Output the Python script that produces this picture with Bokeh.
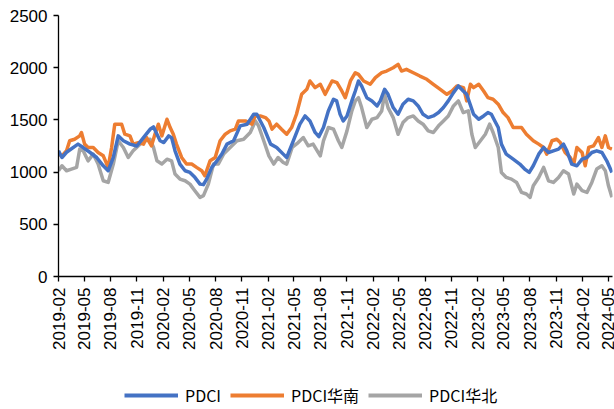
import math
import pandas as pd
from bokeh.plotting import figure
from bokeh.layouts import column
from bokeh.models import (Range1d, FixedTicker, DatetimeTickFormatter, Legend, LegendItem)
from bokeh.embed import file_html
from bokeh.resources import INLINE

# ---------------- data ----------------
tick_labels = ["2019-02", "2019-05", "2019-08", "2019-11", "2020-02", "2020-05",
               "2020-08", "2020-11", "2021-02", "2021-05", "2021-08", "2021-11",
               "2022-02", "2022-05", "2022-08", "2022-11", "2023-02", "2023-05",
               "2023-08", "2023-11", "2024-02", "2024-05"]

pdci_dates = ["2019-02-01", "2019-02-13", "2019-03-01", "2019-04-10", "2019-04-28", "2019-05-21",
              "2019-06-14", "2019-07-07", "2019-07-24", "2019-08-11", "2019-08-28", "2019-09-15",
              "2019-10-08", "2019-11-01", "2019-11-24", "2019-12-17", "2019-12-29", "2020-01-10",
              "2020-01-21", "2020-02-03", "2020-02-20", "2020-03-01", "2020-03-13", "2020-03-30",
              "2020-04-17", "2020-05-04", "2020-05-21", "2020-06-08", "2020-06-20", "2020-07-01",
              "2020-07-19", "2020-08-06", "2020-08-23", "2020-09-10", "2020-10-03", "2020-10-26",
              "2020-11-19", "2020-12-12", "2020-12-23", "2021-01-16", "2021-02-09", "2021-03-02",
              "2021-03-25", "2021-04-06", "2021-04-29", "2021-05-22", "2021-06-09", "2021-06-26",
              "2021-07-14", "2021-07-27", "2021-08-12", "2021-08-29", "2021-09-16", "2021-09-27",
              "2021-10-09", "2021-10-20", "2021-11-02", "2021-11-19", "2021-12-01", "2021-12-12",
              "2021-12-23", "2022-01-10", "2022-01-28", "2022-02-15", "2022-02-26", "2022-03-13",
              "2022-03-25", "2022-04-12", "2022-04-29", "2022-05-16", "2022-06-03", "2022-06-21",
              "2022-07-08", "2022-07-25", "2022-08-12", "2022-08-30", "2022-09-17", "2022-10-04",
              "2022-10-21", "2022-11-08", "2022-11-25", "2022-12-12", "2022-12-24", "2023-01-05",
              "2023-01-17", "2023-02-04", "2023-02-21", "2023-03-08", "2023-03-20", "2023-04-01",
              "2023-04-13", "2023-04-24", "2023-05-11", "2023-06-04", "2023-06-27", "2023-07-14",
              "2023-07-30", "2023-08-13", "2023-09-01", "2023-09-18", "2023-10-05", "2023-10-22",
              "2023-11-09", "2023-11-26", "2023-12-08", "2023-12-25", "2024-01-12", "2024-01-30",
              "2024-02-16", "2024-03-04", "2024-03-21", "2024-04-08", "2024-04-25", "2024-05-13"]
pdci_vals = [1204, 1140, 1190, 1268, 1235, 1190,
             1140, 1060, 1013, 1140, 1347, 1300,
             1268, 1250, 1330, 1410, 1433, 1363,
             1300, 1283, 1347, 1330, 1204, 1077,
             1013, 997, 950, 885, 880, 933,
             1045, 1108, 1172, 1268, 1300, 1443,
             1459, 1554, 1554, 1427, 1268, 1236,
             1172, 1140, 1300, 1459, 1538, 1490,
             1380, 1340, 1427, 1586, 1698, 1682,
             1554, 1490, 1538, 1682, 1777, 1873,
             1825, 1713, 1682, 1634, 1682, 1793,
             1745, 1618, 1554, 1650, 1698, 1682,
             1634, 1554, 1522, 1538, 1570, 1618,
             1682, 1761, 1825, 1777, 1745, 1650,
             1554, 1506, 1538, 1570, 1554, 1490,
             1427, 1268, 1172, 1124, 1077, 1029,
             997, 1061, 1172, 1236, 1188, 1204,
             1220, 1268, 1204, 1077, 1061, 1124,
             1140, 1188, 1204, 1188, 1108, 997]

south_dates = ["2019-02-01", "2019-02-13", "2019-03-01", "2019-03-12", "2019-03-29", "2019-04-16",
               "2019-04-22", "2019-05-03", "2019-05-15", "2019-06-02", "2019-06-19", "2019-07-07",
               "2019-07-24", "2019-08-05", "2019-08-16", "2019-09-09", "2019-09-20", "2019-10-08",
               "2019-10-19", "2019-11-06", "2019-11-24", "2019-12-05", "2019-12-22", "2020-01-03",
               "2020-01-15", "2020-01-27", "2020-02-14", "2020-02-25", "2020-03-07", "2020-03-18",
               "2020-04-05", "2020-04-22", "2020-05-10", "2020-05-27", "2020-06-14", "2020-06-25",
               "2020-07-13", "2020-07-31", "2020-08-17", "2020-09-04", "2020-09-21", "2020-10-09",
               "2020-10-20", "2020-11-13", "2020-12-06", "2020-12-17", "2021-01-04", "2021-01-22",
               "2021-02-03", "2021-02-14", "2021-03-02", "2021-03-19", "2021-04-06", "2021-04-23",
               "2021-05-10", "2021-05-28", "2021-06-15", "2021-06-26", "2021-07-14", "2021-08-01",
               "2021-08-18", "2021-09-11", "2021-09-28", "2021-10-15", "2021-10-27", "2021-11-14",
               "2021-12-01", "2021-12-12", "2021-12-30", "2022-01-22", "2022-02-09", "2022-03-03",
               "2022-03-20", "2022-04-12", "2022-04-29", "2022-05-11", "2022-05-28", "2022-06-21",
               "2022-07-14", "2022-08-07", "2022-08-30", "2022-09-23", "2022-10-16", "2022-11-03",
               "2022-11-20", "2022-12-13", "2022-12-24", "2023-01-06", "2023-01-17", "2023-02-04",
               "2023-02-21", "2023-03-08", "2023-03-26", "2023-04-13", "2023-04-30", "2023-05-17",
               "2023-06-04", "2023-06-21", "2023-07-03", "2023-07-20", "2023-08-13", "2023-09-01",
               "2023-09-18", "2023-09-29", "2023-10-17", "2023-11-03", "2023-11-15", "2023-12-02",
               "2023-12-20", "2024-01-01", "2024-01-12", "2024-01-30", "2024-02-10", "2024-02-22",
               "2024-03-10", "2024-03-27", "2024-04-08", "2024-04-20", "2024-05-01", "2024-05-13"]
south_vals = [1172, 1156, 1204, 1300, 1315, 1347,
              1379, 1268, 1236, 1236, 1188, 1156,
              1045, 1236, 1459, 1459, 1363, 1347,
              1268, 1283, 1268, 1331, 1252, 1363,
              1459, 1347, 1506, 1427, 1363, 1268,
              1140, 1077, 1077, 1045, 1013, 965,
              1108, 1140, 1300, 1363, 1395, 1411,
              1490, 1490, 1459, 1538, 1538, 1522,
              1490, 1411, 1459, 1411, 1363, 1427,
              1554, 1745, 1793, 1873, 1809, 1841,
              1745, 1873, 1857, 1777, 1713, 1873,
              1952, 1936, 1873, 1841, 1905, 1952,
              1968, 2000, 2032, 1968, 1984, 1952,
              1920, 1889, 1841, 1793, 1745, 1777,
              1825, 1809, 1682, 1841, 1809, 1841,
              1777, 1713, 1698, 1650, 1570, 1522,
              1427, 1427, 1427, 1363, 1300, 1268,
              1236, 1172, 1300, 1315, 1283, 1188,
              1140, 1077, 1236, 1188, 1061, 1236,
              1252, 1331, 1236, 1347, 1236, 1220]

north_dates = ["2019-02-01", "2019-02-13", "2019-03-01", "2019-03-18", "2019-04-05", "2019-04-16",
               "2019-04-28", "2019-05-15", "2019-06-02", "2019-06-19", "2019-07-07", "2019-07-24",
               "2019-08-11", "2019-08-28", "2019-09-15", "2019-10-02", "2019-10-19", "2019-11-12",
               "2019-11-30", "2019-12-17", "2019-12-29", "2020-01-10", "2020-01-27", "2020-02-14",
               "2020-03-01", "2020-03-13", "2020-03-30", "2020-04-17", "2020-05-04", "2020-05-21",
               "2020-06-08", "2020-06-20", "2020-07-07", "2020-07-25", "2020-08-11", "2020-08-29",
               "2020-09-21", "2020-10-15", "2020-11-07", "2020-11-30", "2020-12-18", "2020-12-29",
               "2021-01-16", "2021-02-03", "2021-02-20", "2021-03-07", "2021-03-25", "2021-04-06",
               "2021-04-25", "2021-05-16", "2021-06-03", "2021-06-20", "2021-07-07", "2021-08-01",
               "2021-08-12", "2021-08-29", "2021-09-16", "2021-10-03", "2021-10-15", "2021-11-02",
               "2021-11-19", "2021-12-01", "2021-12-12", "2021-12-23", "2022-01-10", "2022-01-28",
               "2022-02-15", "2022-03-03", "2022-03-13", "2022-03-25", "2022-04-12", "2022-04-29",
               "2022-05-16", "2022-06-03", "2022-06-21", "2022-07-08", "2022-07-25", "2022-08-12",
               "2022-08-30", "2022-09-17", "2022-10-04", "2022-10-21", "2022-11-08", "2022-11-25",
               "2022-12-12", "2022-12-30", "2023-01-11", "2023-01-23", "2023-02-10", "2023-02-27",
               "2023-03-14", "2023-03-26", "2023-04-13", "2023-04-24", "2023-05-11", "2023-05-29",
               "2023-06-16", "2023-07-03", "2023-07-20", "2023-08-02", "2023-08-13", "2023-09-01",
               "2023-09-18", "2023-10-05", "2023-10-22", "2023-11-09", "2023-11-26", "2023-12-14",
               "2024-01-01", "2024-01-12", "2024-01-30", "2024-02-16", "2024-03-04", "2024-03-21",
               "2024-04-08", "2024-04-20", "2024-05-01", "2024-05-13"]
north_vals = [1013, 1061, 1013, 1029, 1045, 1220,
              1204, 1108, 1172, 1077, 917, 901,
              1077, 1300, 1236, 1140, 1204, 1268,
              1300, 1315, 1236, 1108, 1077, 1124,
              1108, 981, 933, 917, 885, 822,
              758, 774, 885, 1077, 1077, 1172,
              1236, 1300, 1315, 1379, 1490, 1443,
              1300, 1156, 1077, 1140, 1092, 1077,
              1236, 1283, 1331, 1252, 1268, 1156,
              1300, 1427, 1411, 1300, 1236, 1395,
              1586, 1682, 1713, 1618, 1427, 1506,
              1522, 1586, 1745, 1618, 1522, 1363,
              1474, 1522, 1538, 1490, 1459, 1395,
              1379, 1443, 1490, 1538, 1634, 1682,
              1570, 1586, 1363, 1236, 1300, 1363,
              1459, 1379, 1236, 997, 949, 933,
              901, 806, 790, 758, 869, 949,
              1045, 917, 901, 949, 1013, 981,
              790, 885, 822, 806, 901, 1029,
              1061, 1013, 869, 758]

series_names = ["PDCI", "PDCI华南", "PDCI华北"]
series_colors = ["#4472C4", "#ED7D31", "#A5A5A5"]

# ---------------- main figure ----------------
x_start = pd.Timestamp("2019-02-01")
x_end = pd.Timestamp("2024-05-15")

p = figure(width=614, height=380, x_axis_type="datetime",
           output_backend="svg", toolbar_location=None,
           x_range=Range1d(x_start, x_end), y_range=Range1d(0, 2500),
           min_border_left=58, min_border_right=2, min_border_top=15,
           min_border_bottom=104)
p.outline_line_color = None
p.xgrid.grid_line_color = None
p.ygrid.grid_line_color = None
p.background_fill_color = "white"
p.border_fill_color = "white"

p.line(pd.to_datetime(north_dates), north_vals, line_color=series_colors[2],
       line_width=3.5, line_join="round")
p.line(pd.to_datetime(south_dates), south_vals, line_color=series_colors[1],
       line_width=3.5, line_join="round")
p.line(pd.to_datetime(pdci_dates), pdci_vals, line_color=series_colors[0],
       line_width=3.5, line_join="round")

tick_ms = [pd.Timestamp(t + "-01").value / 1e6 for t in tick_labels]
p.xaxis.ticker = FixedTicker(ticks=tick_ms)
fmt = "%Y-%m"
p.xaxis.formatter = DatetimeTickFormatter(years=fmt, months=fmt, days=fmt, hours=fmt,
                                          minutes=fmt, seconds=fmt, milliseconds=fmt)
p.xaxis.major_label_orientation = math.pi / 2
p.yaxis.ticker = FixedTicker(ticks=[0, 500, 1000, 1500, 2000, 2500])

for ax in (p.xaxis[0], p.yaxis[0]):
    ax.axis_line_color = "black"
    ax.axis_line_width = 1.3
    ax.major_tick_line_color = "black"
    ax.major_tick_line_width = 1.3
    ax.major_tick_in = 0
    ax.major_tick_out = 5
    ax.minor_tick_line_color = None
    ax.major_label_text_font = "Liberation Sans"
    ax.major_label_text_font_size = "17px"
    ax.major_label_text_color = "black"
p.xaxis.major_label_standoff = 6
p.yaxis.major_label_standoff = 6

# ---------------- legend strip (frame is aligned with the main frame) ----------------
lg = figure(width=614, height=29, output_backend="svg", toolbar_location=None,
            x_range=Range1d(0, 1), y_range=Range1d(0, 1),
            x_axis_location=None, y_axis_location=None,
            min_border_left=0, min_border_right=0,
            min_border_top=0, min_border_bottom=0)
lg.outline_line_color = None
lg.xgrid.grid_line_color = None
lg.ygrid.grid_line_color = None
items = []
for name, color in zip(series_names, series_colors):
    r = lg.line(x=[float("nan")], y=[float("nan")], line_color=color, line_width=4)
    items.append(LegendItem(label=name, renderers=[r]))
legend = Legend(items=items, orientation="horizontal", location=(66, 2),
                glyph_width=54, glyph_height=16, label_height=16,
                label_standoff=7, spacing=9, padding=2, margin=0,
                label_text_font="Noto Sans CJK SC", label_text_font_size="16px",
                label_text_color="black",
                border_line_color=None, background_fill_alpha=0)
lg.add_layout(legend, "center")

layout = column(p, lg, spacing=0)
open("out.html", "w").write(file_html(layout, INLINE))
